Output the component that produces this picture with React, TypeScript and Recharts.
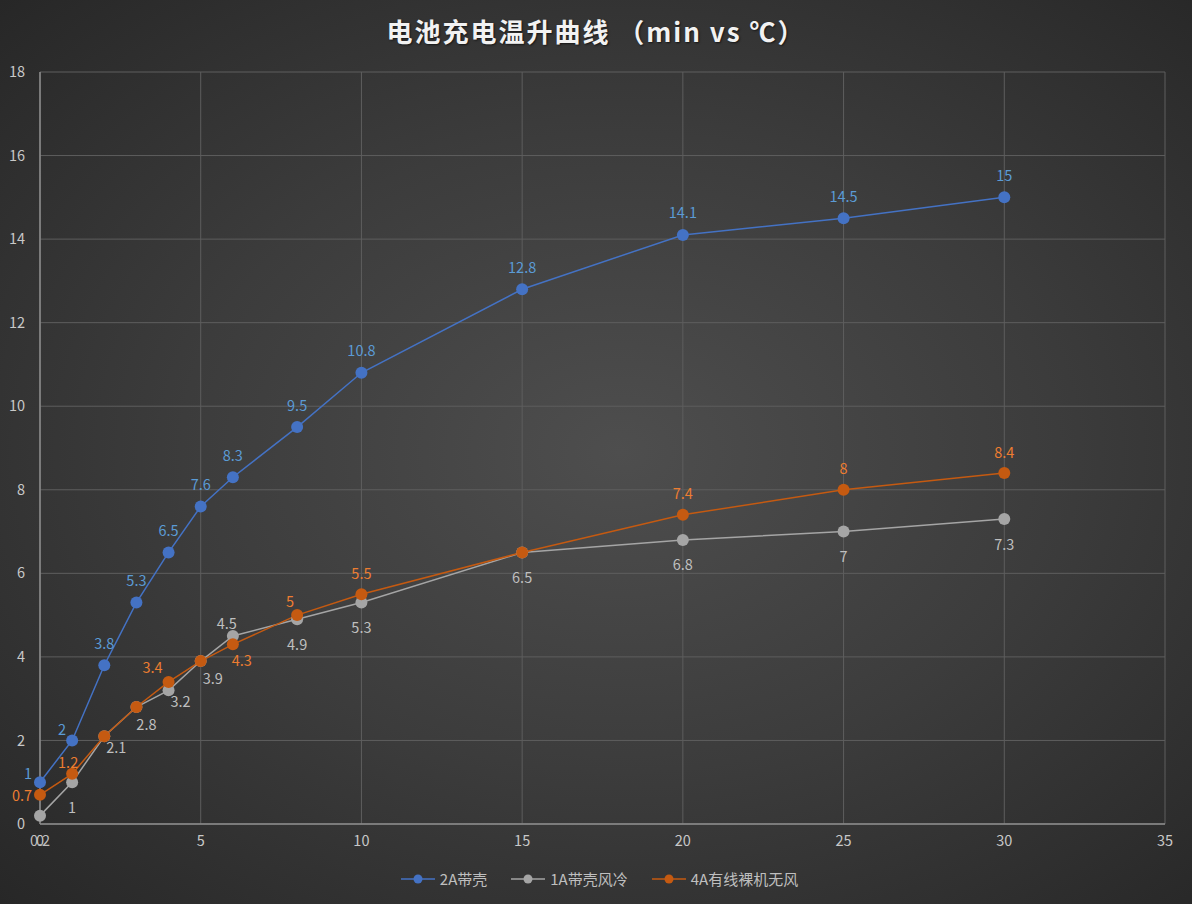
import React from 'react';
import { LineChart, Line, XAxis, YAxis, CartesianGrid, Legend, LabelList } from 'recharts';

const xMinutes = [0, 1, 2, 3, 4, 5, 6, 8, 10, 15, 20, 25, 30];
const temp2A = [1, 2, 3.8, 5.3, 6.5, 7.6, 8.3, 9.5, 10.8, 12.8, 14.1, 14.5, 15];
const temp1A = [0.2, 1, 2.1, 2.8, 3.2, 3.9, 4.5, 4.9, 5.3, 6.5, 6.8, 7, 7.3];
const temp4A = [0.7, 1.2, 2.1, 2.8, 3.4, 3.9, 4.3, 5, 5.5, 6.5, 7.4, 8, 8.4];
const seriesNames = ['2A带壳', '1A带壳风冷', '4A有线裸机无风'];
const xTicks = [0, 5, 10, 15, 20, 25, 30, 35];
const yTicks = [0, 2, 4, 6, 8, 10, 12, 14, 16, 18];
const titleText = '电池充电温升曲线 （min vs ℃）';

const data = xMinutes.map((x, i) => ({ x, a2: temp2A[i], a1: temp1A[i], a4: temp4A[i] }));

const FONT = '"Noto Sans CJK SC", "Noto Sans", sans-serif';

// label placement (style): default offset and per-index overrides; null = hidden
type Off = [number, number] | null;
const placement: Record<string, { def: [number, number]; over: Record<number, Off> }> = {
  a2: { def: [0, -23], over: { 0: [-12, -10], 1: [-10, -12] } },
  a1: { def: [0, 24], over: { 2: [12, 10], 3: [10, 16], 4: [12, 10], 5: [12, 16], 6: [-6, -14] } },
  a4: { def: [0, -22], over: { 0: [-18, 0], 1: [-4, -12], 2: null, 3: null, 4: [-16, -15], 5: null, 6: [9, 15], 7: [-7, -15], 9: null } },
};

const makeLabel = (key: string, color: string) => (props: any) => {
  const { x, y, value, index } = props;
  const p = placement[key];
  const o = index in p.over ? p.over[index] : p.def;
  if (!o) return null;
  return (
    <text x={x + o[0]} y={y + o[1]} fill={color} fontSize={14.5} fontFamily={FONT} textAnchor="middle" dominantBaseline="central">
      {value}
    </text>
  );
};

const series = [
  { key: 'a2', name: seriesNames[0], line: '#4472C4', label: '#5B9BD5' },
  { key: 'a1', name: seriesNames[1], line: '#A5A5A5', label: '#BFBFBF' },
  { key: 'a4', name: seriesNames[2], line: '#C55A11', label: '#ED7D31' },
];

const renderLegend = () => (
  <div style={{ display: 'flex', justifyContent: 'center', gap: 24, fontFamily: FONT, fontSize: 15, color: '#BFBFBF', paddingTop: 4, paddingLeft: 34 }}>
    {series.map((s) => (
      <div key={s.key} style={{ display: 'flex', alignItems: 'center' }}>
        <svg width={34} height={12} style={{ marginRight: 5 }}>
          <line x1={0} y1={6} x2={34} y2={6} stroke={s.line} strokeWidth={1.5} />
          <circle cx={17} cy={6} r={4.5} fill={s.line} />
        </svg>
        <span>{s.name}</span>
      </div>
    ))}
  </div>
);

export default function App() {
  return (
    <div
      style={{
        position: 'absolute',
        left: 0,
        top: 0,
        width: 1192,
        height: 904,
        background: 'radial-gradient(ellipse at 52% 50%, #4e4e4e 0%, #3c3c3c 50%, #272727 100%)',
        overflow: 'hidden',
      }}
    >
      <div
        style={{
          position: 'absolute',
          top: 12,
          left: 0,
          width: 1192,
          textAlign: 'center',
          fontFamily: FONT,
          fontWeight: 700,
          fontSize: 26,
          letterSpacing: 2,
          color: '#F2F2F2',
          textShadow: '1px 1px 2px rgba(0,0,0,0.6)',
        }}
      >
        {titleText}
      </div>
      <LineChart width={1192} height={904} data={data} margin={{ top: 72, right: 27, bottom: 10, left: 0 }}>
        <CartesianGrid stroke="#5E5E5E" strokeWidth={1} horizontalValues={yTicks} verticalValues={xTicks} />
        <XAxis
          dataKey="x"
          type="number"
          domain={[0, 35]}
          ticks={xTicks}
          tickLine={false}
          axisLine={{ stroke: '#8C8C8C', strokeWidth: 1.5 }}
          tick={{ fill: '#C8C8C8', fontSize: 14.5, fontFamily: FONT }}
          tickMargin={6}
          height={40}
          interval={0}
        />
        <YAxis
          type="number"
          domain={[0, 18]}
          ticks={yTicks}
          tickLine={false}
          axisLine={{ stroke: '#8C8C8C', strokeWidth: 1.5 }}
          tick={{ fill: '#C8C8C8', fontSize: 14.5, fontFamily: FONT }}
          tickMargin={9}
          width={40}
          interval={0}
        />
        <Legend verticalAlign="bottom" height={30} content={renderLegend} />
        {series.map((s) => (
          <Line
            key={s.key}
            dataKey={s.key}
            name={s.name}
            stroke={s.line}
            strokeWidth={1.5}
            dot={{ r: 6, fill: s.line, stroke: s.line, strokeWidth: 0 }}
            isAnimationActive={false}
          >
            <LabelList dataKey={s.key} content={makeLabel(s.key, s.label)} />
          </Line>
        ))}
      </LineChart>
    </div>
  );
}
